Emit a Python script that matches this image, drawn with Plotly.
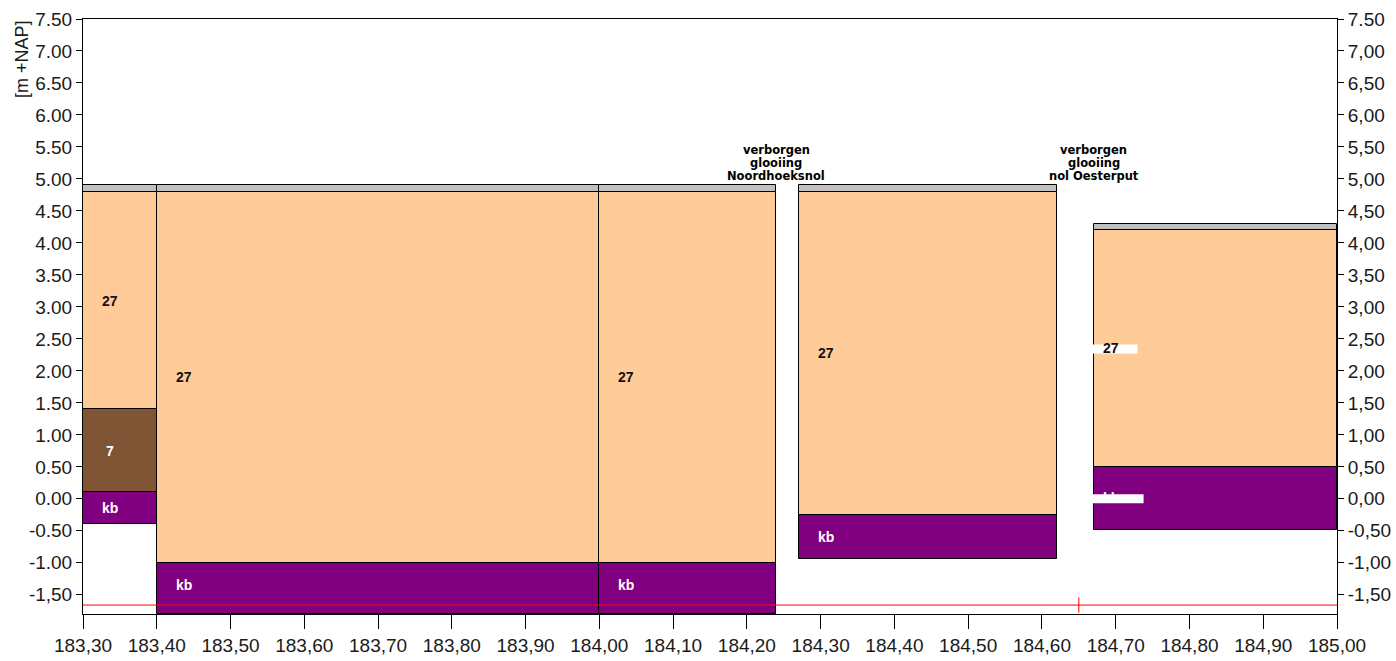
import plotly.graph_objects as go

# kolommen (profielvakken) in km
col_left = [183.30, 183.40, 184.00, 184.27, 184.67]
col_right = [183.40, 184.00, 184.24, 184.62, 185.00]

# lagen per kolom: kolom-index, bovenkant, onderkant, grondsoort
layer_col = [0, 0, 0, 0, 1, 1, 1, 2, 2, 2, 3, 3, 3, 4, 4, 4]
layer_top = [4.90, 4.80, 1.40, 0.10, 4.90, 4.80, -1.00, 4.90, 4.80, -1.00, 4.90, 4.80, -0.25, 4.30, 4.20, 0.50]
layer_bot = [4.80, 1.40, 0.10, -0.40, 4.80, -1.00, -1.80, 4.80, -1.00, -1.80, 4.80, -0.25, -0.94, 4.20, 0.50, -0.48]
layer_code = ['top', '27', '7', 'kb', 'top', '27', 'kb', 'top', '27', 'kb', 'top', '27', 'kb', 'top', '27', 'kb']
label_y = [None, 3.10, 0.75, -0.15, None, 1.90, -1.34, None, 1.90, -1.34, None, 2.28, -0.59, None, 2.35, 0.01]

# verborgen glooiingen
gap_x = [184.24, 184.67]
gap_text = [['verborgen', 'glooiing', 'Noordhoeksnol'], ['verborgen', 'glooiing', 'nol Oesterput']]
gap_y = 5.25

# referentieniveau (rode lijn) en markering
ref_level = -1.66
ref_x = [183.30, 185.00]
marker_x = 184.65

x_ticks = [round(183.3 + 0.1 * i, 2) for i in range(18)]
x_ticktext = [('%.2f' % v).replace('.', ',') for v in x_ticks]
y_ticks = [7.5 - 0.5 * i for i in range(19)]
y_ticktext_left = ['%.2f' % v for v in y_ticks]
y_ticktext_left[-1] = '-1,50'
y_ticktext_right = [('%.2f' % v).replace('.', ',') for v in y_ticks]
y_ticktext_right[0] = '7.50'

colors = {'top': '#C0C0C0', '27': '#FFCC99', '7': '#7F5535', 'kb': '#800080'}
text_colors = {'27': '#111111', '7': 'white', 'kb': 'white'}

fig = go.Figure()

for code in ['top', '27', '7', 'kb']:
    idx = [i for i, c in enumerate(layer_code) if c == code]
    left = [col_left[layer_col[i]] for i in idx]
    right = [col_right[layer_col[i]] for i in idx]
    fig.add_trace(go.Bar(
        x=[(l + r) / 2 for l, r in zip(left, right)],
        y=[layer_top[i] - layer_bot[i] for i in idx],
        base=[layer_bot[i] for i in idx],
        width=[r - l for l, r in zip(left, right)],
        marker=dict(color=colors[code], line=dict(color='black', width=1)),
        showlegend=False,
        hoverinfo='skip',
    ))

# rode lijn op de rechter as (tekent ook de rechter as)
fig.add_trace(go.Scatter(
    x=ref_x, y=[ref_level, ref_level], mode='lines',
    line=dict(color='red', width=1), yaxis='y2',
    showlegend=False, hoverinfo='skip',
))
fig.add_trace(go.Scatter(
    x=[marker_x], y=[ref_level], mode='markers', yaxis='y2',
    marker=dict(symbol='line-ns', size=11, line=dict(color='red', width=1)),
    showlegend=False, hoverinfo='skip',
))

annotations = []
shapes = []
for i, code in enumerate(layer_code):
    if label_y[i] is None:
        continue
    c = layer_col[i]
    boxed = c == 4  # laatste kolom: labels met witte balk erachter
    if boxed:
        shapes.append(dict(
            type='rect', xref='x', yref='y', xsizemode='pixel', ysizemode='pixel',
            xanchor=col_left[c], yanchor=label_y[i],
            x0=-12, x1=44 if code == '27' else 50, y0=-5, y1=4,
            fillcolor='white', line=dict(width=0), layer='above',
        ))
    annotations.append(dict(
        x=col_left[c], y=label_y[i], xref='x', yref='y',
        text='<b>%s</b>' % code, showarrow=False, xanchor='center', yanchor='middle',
        xshift=17 if boxed else 27,
        font=dict(family='Arial', size=14, color=text_colors[code]),
    ))

for gx, lines in zip(gap_x, gap_text):
    for k, line in enumerate(lines):
        annotations.append(dict(
            x=gx, y=gap_y, xref='x', yref='y', text='<b>%s</b>' % line,
            showarrow=False, xanchor='center', yanchor='middle',
            yshift=13 - 13 * k,
            font=dict(family='DejaVu Sans', size=11.5, color='black'),
        ))

annotations.append(dict(
    x=-0.0486, y=0.933, xref='paper', yref='paper', text='[m +NAP]',
    textangle=-90, showarrow=False, xanchor='center', yanchor='middle',
    font=dict(family='Arial', size=18, color='#1a1a1a'),
))

axis_font = dict(family='Arial', size=19, color='#1a1a1a')
common = dict(
    ticks='outside', tickcolor='black', tickfont=axis_font,
    showline=True, linecolor='black', linewidth=1,
    showgrid=False, zeroline=False, automargin=False,
)
fig.update_layout(
    width=1396, height=661,
    margin=dict(l=83, r=59, t=19, b=47, autoexpand=False),
    plot_bgcolor='white', paper_bgcolor='white',
    barmode='overlay', bargap=0,
    annotations=annotations,
    shapes=shapes,
    xaxis=dict(range=[183.30, 185.00], tickvals=x_ticks, ticktext=x_ticktext,
               ticklen=14, mirror=True, **common),
    yaxis=dict(range=[-1.80, 7.50], tickvals=y_ticks, ticktext=y_ticktext_left,
               ticklen=6, mirror=True, **common),
    yaxis2=dict(range=[-1.80, 7.50], tickvals=y_ticks, ticktext=y_ticktext_right,
                overlaying='y', side='right', ticklen=6, **common),
)

# pagina zonder body-marge, zodat de figuur het venster precies vult
fig.write_html("out.html", config={'displayModeBar': False},
               post_script="document.body.style.margin='0px';")
